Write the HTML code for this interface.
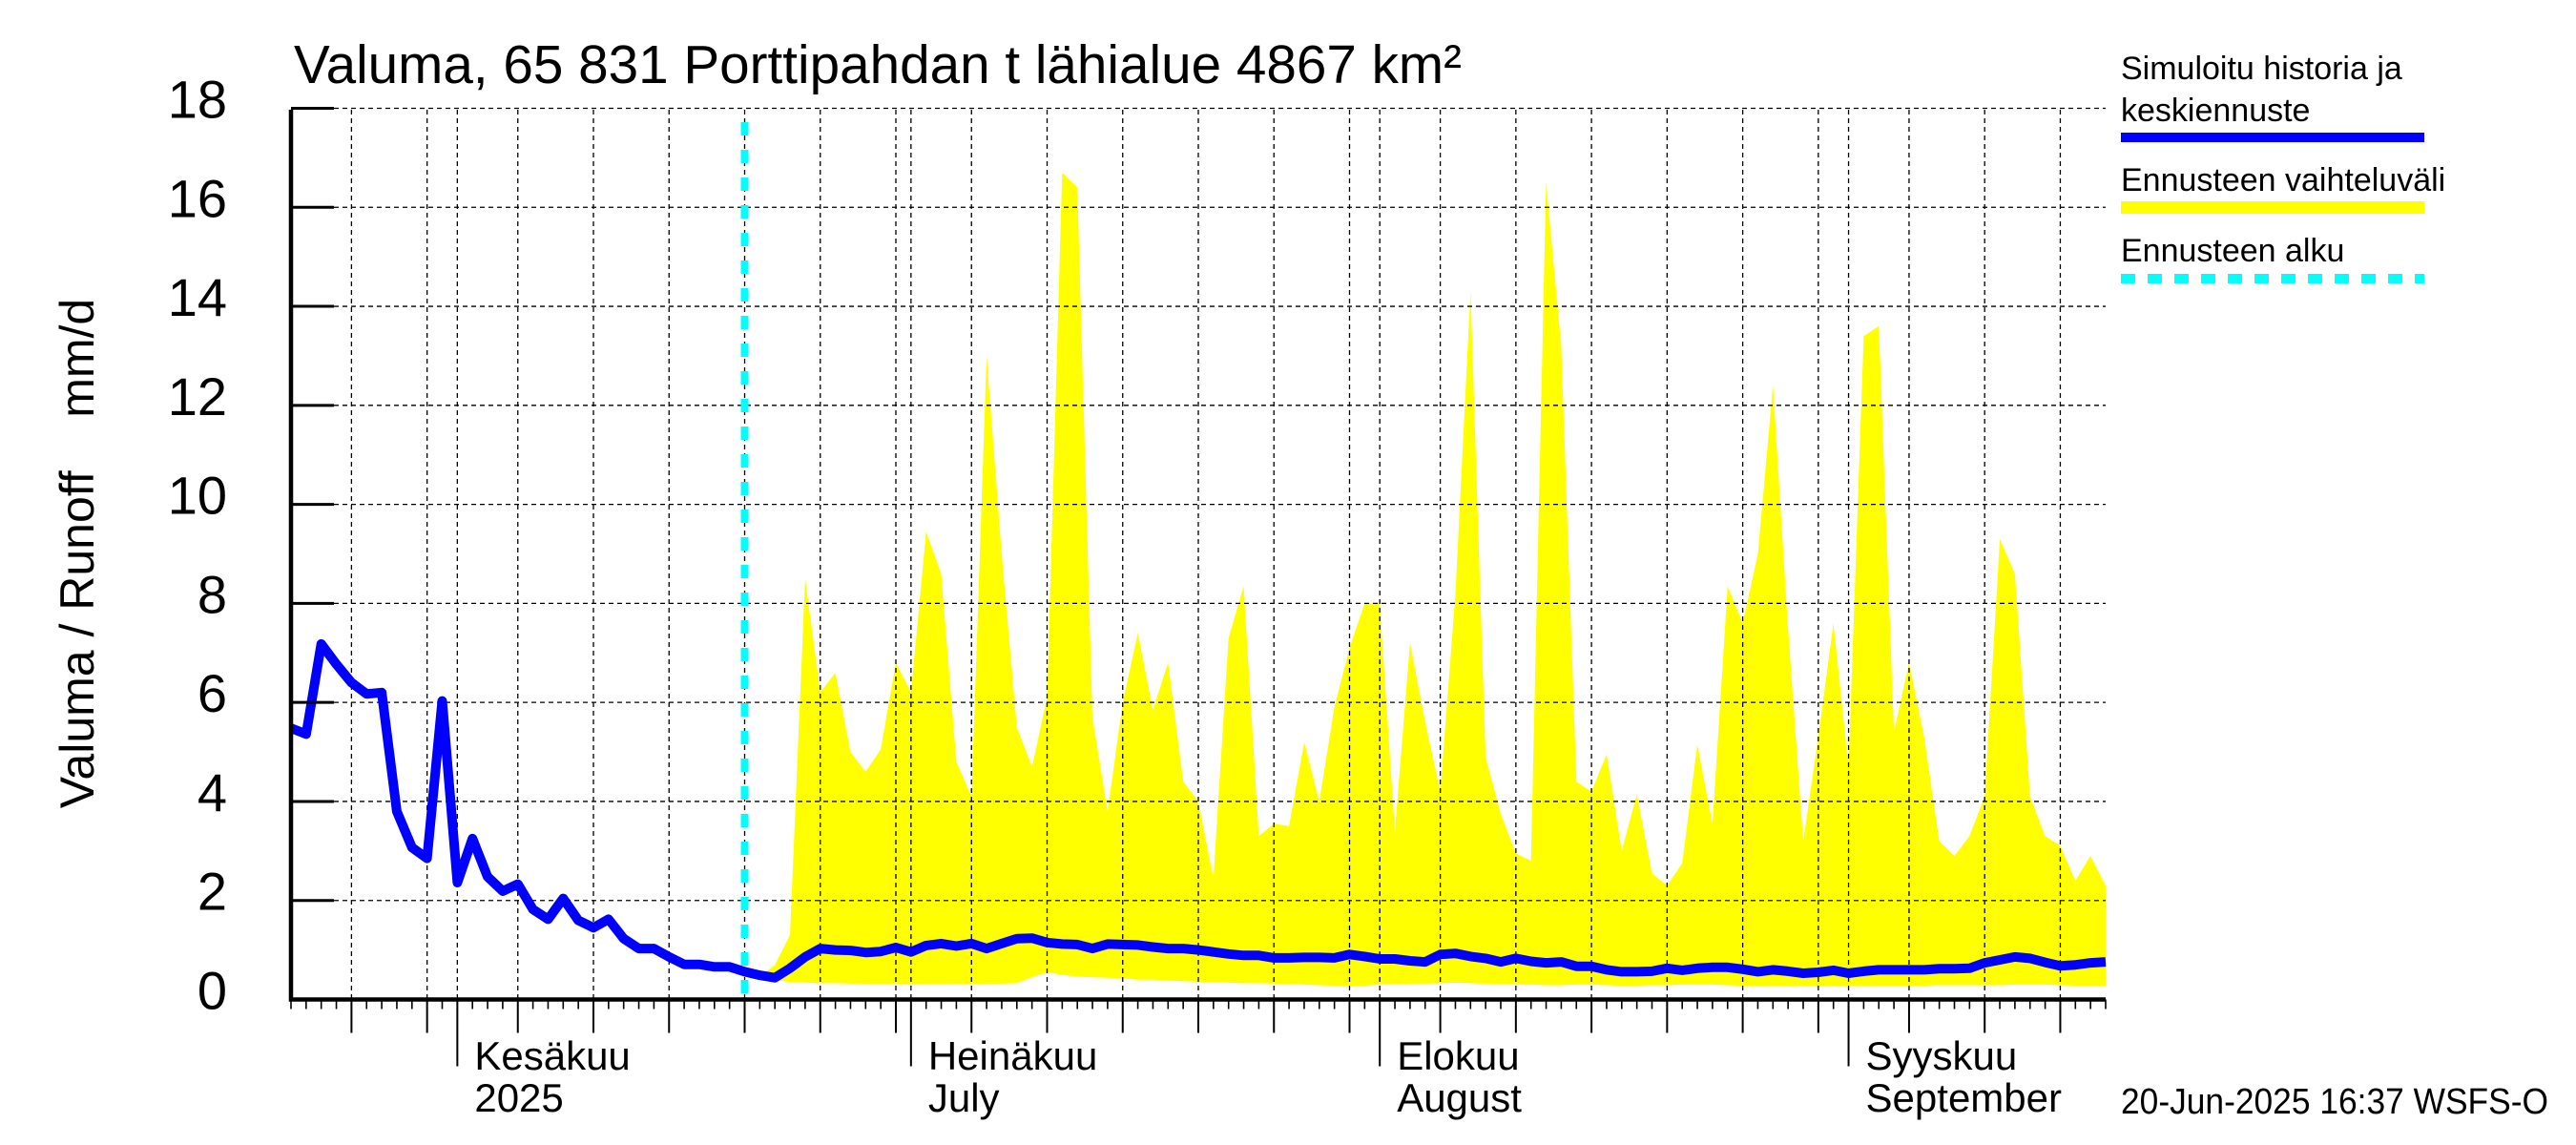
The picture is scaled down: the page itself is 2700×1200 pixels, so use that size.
<!DOCTYPE html>
<html><head><meta charset="utf-8"><style>
html,body{margin:0;padding:0;background:#fff;}
svg{display:block;font-family:"Liberation Sans",sans-serif;}
</style></head><body>
<svg id="chart" width="2700" height="1200" viewBox="0 0 2700 1200" xmlns="http://www.w3.org/2000/svg">
<rect x="0" y="0" width="2700" height="1200" fill="#fff"/>
<text x="308" y="87" font-size="57" textLength="1224" lengthAdjust="spacingAndGlyphs">Valuma, 65 831 Porttipahdan t lähialue 4867 km²</text>
<text transform="translate(98,580) rotate(-90)" text-anchor="middle" font-size="50" xml:space="preserve">Valuma / Runoff    mm/d</text>
<g id="band"></g><g id="grid"></g><g id="cyan"></g><g id="line"></g><g id="axes"></g>
<g>
<text x="2223" y="83" font-size="34">Simuloitu historia ja</text>
<text x="2223" y="127" font-size="34">keskiennuste</text>
<rect x="2223" y="139" width="318" height="10" fill="#0000ff"/>
<text x="2223" y="200" font-size="34">Ennusteen vaihteluväli</text>
<rect x="2223" y="211" width="318" height="13" fill="#ffff00"/>
<text x="2223" y="274" font-size="34">Ennusteen alku</text>
<line x1="2223" y1="292" x2="2541" y2="292" stroke="#00ffff" stroke-width="10" stroke-dasharray="15 13"/>
</g>
<text x="2223" y="1167" font-size="38" textLength="448" lengthAdjust="spacingAndGlyphs">20-Jun-2025 16:37 WSFS-O</text>
</svg>
<script>
const yTicks = [0,2,4,6,8,10,12,14,16,18];
const forecastStartDay = 30;
const bandStartDay = 31;
const simulated = [5.48,5.36,7.18,6.77,6.4,6.17,6.2,3.8,3.07,2.85,6.03,2.36,3.25,2.48,2.19,2.33,1.82,1.62,2.04,1.6,
1.45,1.62,1.23,1.03,1.03,0.86,0.71,0.71,0.66,0.66,0.56,0.49,0.44,0.63,0.86,1.03,1.0,0.99,0.95,0.97,
1.05,0.96,1.09,1.13,1.08,1.13,1.03,1.13,1.23,1.24,1.15,1.12,1.11,1.03,1.12,1.11,1.1,1.06,1.03,1.03,
1.0,0.96,0.92,0.89,0.89,0.84,0.84,0.85,0.85,0.84,0.91,0.87,0.82,0.82,0.78,0.76,0.91,0.93,0.87,0.83,
0.76,0.83,0.77,0.74,0.76,0.67,0.67,0.6,0.56,0.56,0.57,0.63,0.59,0.63,0.65,0.65,0.61,0.56,0.6,0.57,
0.53,0.55,0.59,0.53,0.57,0.6,0.6,0.6,0.6,0.62,0.62,0.63,0.74,0.8,0.86,0.83,0.75,0.68,0.7,0.74,0.76];
const bandUpper = [0.45,0.7,1.3,8.5,6.2,6.6,5.0,4.6,5.05,6.8,6.2,9.45,8.6,4.8,4.1,13.0,9.0,5.5,4.7,6.1,
16.7,16.4,5.7,3.8,6.0,7.4,5.85,6.8,4.4,4.0,2.45,7.3,8.35,3.3,3.55,3.5,5.2,4.0,5.9,7.1,
8.0,8.0,3.4,7.2,5.6,4.2,8.2,14.3,4.9,3.75,2.95,2.8,16.5,13.2,4.4,4.2,4.95,3.0,4.15,2.55,
2.3,2.75,5.15,3.55,8.35,7.6,9.0,12.4,7.5,3.2,5.3,7.6,4.7,13.4,13.6,5.4,6.8,5.3,3.2,2.9,
3.3,4.1,9.3,8.6,4.1,3.3,3.1,2.4,2.9,2.3];
const bandLower = [0.45,0.4,0.35,0.34,0.33,0.33,0.32,0.32,0.31,0.32,0.3,0.31,0.31,0.32,0.31,0.32,0.32,0.33,0.45,0.55,
0.5,0.46,0.45,0.44,0.43,0.4,0.4,0.38,0.37,0.36,0.35,0.34,0.33,0.33,0.32,0.31,0.3,0.29,0.28,0.27,
0.28,0.3,0.31,0.32,0.32,0.33,0.34,0.33,0.32,0.31,0.3,0.3,0.29,0.29,0.3,0.3,0.29,0.28,0.28,0.29,
0.29,0.3,0.3,0.3,0.29,0.28,0.28,0.28,0.28,0.27,0.27,0.27,0.28,0.28,0.28,0.28,0.28,0.28,0.29,0.29,
0.29,0.29,0.29,0.3,0.3,0.3,0.29,0.28,0.28,0.28];
const monthLabels = [["Kesäkuu","2025"],["Heinäkuu","July"],["Elokuu","August"],["Syyskuu","September"]];
const monthStartDays = [11,41,72,103];

const NS="http://www.w3.org/2000/svg";
const X0=305, DX=15.85, Y0=1047.5, DY=51.89, XR=2207, YT=115;
function xs(d){return X0+d*DX;}
function ys(v){return Y0-v*DY;}
function mk(tag,attrs,parent){const e=document.createElementNS(NS,tag);for(const k in attrs)e.setAttribute(k,attrs[k]);document.getElementById(parent).appendChild(e);return e;}

let pts=[];
for(let i=0;i<bandUpper.length;i++)pts.push(xs(bandStartDay+i).toFixed(1)+","+ys(bandUpper[i]).toFixed(1));
for(let i=bandLower.length-1;i>=0;i--)pts.push(xs(bandStartDay+i).toFixed(1)+","+ys(bandLower[i]).toFixed(1));
const band=mk("polygon",{points:pts.join(" "),fill:"#ffff00"},"band");



yTicks.forEach(v=>{if(v===0)return;
 const g=mk("line",{x1:X0,x2:XR,y1:ys(v),y2:ys(v),stroke:"#000","stroke-width":1.3,"stroke-dasharray":"5 4"},"grid");
 
 
});
for(let d=0;d<=120;d++){
 const dt=new Date(2025,4,21+d); const dom=dt.getDate();
 const isMonth=dom===1, isFive=(dom%5===0);
 const x=xs(d);
 if((isMonth||isFive)&&d>0){
  const g=mk("line",{x1:x,x2:x,y1:YT,y2:Y0,stroke:"#000","stroke-width":1.3,"stroke-dasharray":"5 4"},"grid");
  
  
 }
 const len=isMonth?70:(isFive?35:10);
 const t=mk("line",{x1:x,x2:x,y1:Y0,y2:Y0+len,stroke:"#000","stroke-width":isMonth||isFive?2:1.6},"axes");
 
 
}

const cy=mk("line",{x1:xs(forecastStartDay),x2:xs(forecastStartDay),y1:128,y2:Y0,stroke:"#00ffff","stroke-width":8,"stroke-dasharray":"14 15"},"cyan");



const lp=simulated.map((v,i)=>xs(i).toFixed(1)+","+ys(v).toFixed(1)).join(" ");
const pl=mk("polyline",{points:lp,fill:"none",stroke:"#0000ff","stroke-width":10,"stroke-linejoin":"round"},"line");



const ax=mk("path",{d:`M${X0} ${YT} V${Y0} H${XR}`,fill:"none",stroke:"#000","stroke-width":4.5},"axes");


yTicks.forEach(v=>{
 const t=mk("line",{x1:X0,x2:X0+45,y1:ys(v),y2:ys(v),stroke:"#000","stroke-width":3},"axes");
 
 
 const l=mk("text",{x:238,y:ys(v)+10,"text-anchor":"end","font-size":56},"axes");
 l.textContent=String(v);
 
 
});
monthStartDays.forEach((d,i)=>{
 const a=mk("text",{x:xs(d)+18,y:1121,"font-size":42},"axes");
 a.textContent=monthLabels[i][0];
 
 
 const b=mk("text",{x:xs(d)+18,y:1165,"font-size":42},"axes");
 b.textContent=monthLabels[i][1];
 
 
});
</script>
</body></html>
